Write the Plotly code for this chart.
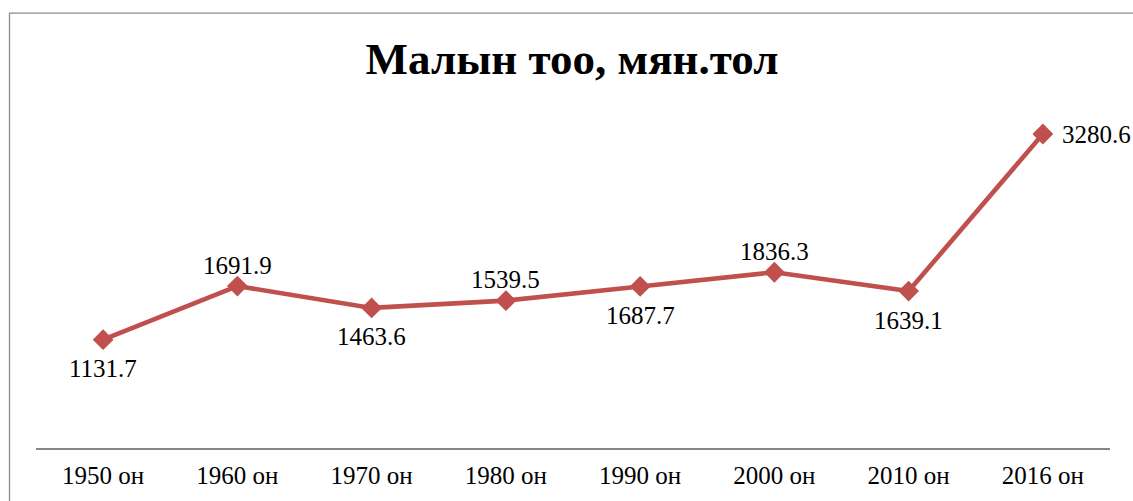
import plotly.graph_objects as go

categories = ["1950 он", "1960 он", "1970 он", "1980 он", "1990 он", "2000 он", "2010 он", "2016 он"]
values = [1131.7, 1691.9, 1463.6, 1539.5, 1687.7, 1836.3, 1639.1, 3280.6]
label_positions = ["below", "above", "below", "above", "below", "above", "below", "right"]
title_text = "Малын тоо, мян.тол"

W, H = 1133, 501
L, T = 36, 113
plot_right, plot_bottom = 1110, 450
R = W - plot_right
B = H - plot_bottom
plot_w = W - L - R
plot_h = H - T - B

fig = go.Figure()
fig.add_trace(go.Scatter(
    x=categories, y=values, mode="lines+markers",
    line=dict(color="#C0504D", width=4.6),
    marker=dict(symbol="diamond", size=16, color="#C0504D"),
    cliponaxis=False,
    showlegend=False,
))

shift = {"below": (0, -29, "center"), "above": (0, 21, "center"), "right": (17, 0, "left")}
for cat, val, pos in zip(categories, values, label_positions):
    dx, dy, xa = shift[pos]
    fig.add_annotation(x=cat, y=val, text=f"{val:.1f}", showarrow=False,
                       xshift=dx, yshift=dy, xanchor=xa, yanchor="middle",
                       font=dict(family="Liberation Serif", size=25, color="#000000"))

def px_x(p):
    return (p - L) / plot_w

def px_y(p):
    return (plot_bottom - p) / plot_h

fig.add_shape(type="rect", xref="paper", yref="paper",
              x0=px_x(9.5), x1=px_x(1150), y0=px_y(520), y1=px_y(12.5),
              line=dict(color="#8C8C8C", width=1.3), fillcolor="rgba(0,0,0,0)", layer="below")

fig.update_layout(
    width=W, height=H,
    margin=dict(l=L, r=R, t=T, b=B),
    paper_bgcolor="white", plot_bgcolor="white",
    title=dict(text=f"<b>{title_text}</b>", x=572 / W, xanchor="center",
               y=1 - 58 / H, yref="container", yanchor="middle",
               font=dict(family="Liberation Serif", size=45, color="#000000")),
    xaxis=dict(type="category", range=[-0.5, 7.5], showline=True, linecolor="#868686",
               linewidth=2, ticks="", showgrid=False, zeroline=False, ticklabelstandoff=4,
               tickfont=dict(family="Liberation Serif", size=25, color="#000000")),
    yaxis=dict(range=[0, 3500], visible=False, showgrid=False, zeroline=False),
)

fig.write_html("out.html", config={"displayModeBar": False},
               post_script="document.body.style.margin='0';")
